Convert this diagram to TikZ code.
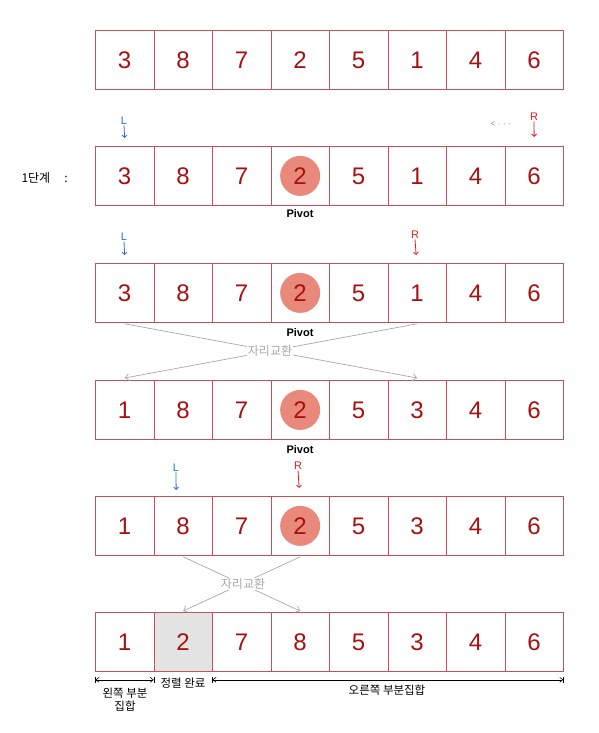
\documentclass[tikz,border=0pt]{standalone}
\usepackage{fontspec}
\setmainfont{Liberation Sans}
\newfontfamily\kr{Noto Sans CJK KR}
\usetikzlibrary{arrows.meta}
\definecolor{cellline}{HTML}{C8505A}
\definecolor{digit}{HTML}{A81010}
\definecolor{pivotc}{HTML}{E8897B}
\definecolor{lblue}{HTML}{2A70C8}
\definecolor{rred}{HTML}{D82020}
\definecolor{swapg}{HTML}{A8A8A8}
\definecolor{donegray}{HTML}{E3E3E3}
\newcommand\cellrow[3]{%
  \foreach \v/\s [count=\i] in {#3}
    \node[cell,\s] (r#1c\i) at ({95+(\i-1)*58.5},#2) {\v};}
\begin{document}
\begin{tikzpicture}[x=1pt,y=-1pt,
  cell/.style={draw=cellline, line width=0.8pt, minimum width=58.5pt, minimum height=59pt,
    inner sep=0pt, anchor=north west, font=\fontsize{24}{24}\selectfont, text=digit},
  pivotcell/.style={path picture={\fill[pivotc] (path picture bounding box.center) circle[radius=20pt];}},
  donecell/.style={fill=donegray},
  lmark/.style={text=lblue, font=\fontsize{11}{11}\selectfont, inner sep=0.5pt},
  rmark/.style={text=rred, font=\fontsize{11}{11}\selectfont, inner sep=0.5pt},
  markarr/.style={-{Straight Barb[length=2.5pt,width=5pt]}, line width=0.8pt},
  pivlabel/.style={font=\bfseries\fontsize{11}{11}\selectfont, inner sep=1pt},
  swapline/.style={draw=swapg, line width=0.7pt, -{Straight Barb[length=4pt,width=7pt]}},
  swaplabel/.style={text=swapg, fill=white, font=\kr\fontsize{12}{12}\selectfont, inner sep=1pt},
  krtext/.style={font=\kr\fontsize{11.5}{13}\selectfont, align=center, inner sep=0.5pt},
  dimline/.style={line width=0.6pt, |<->|, >={Straight Barb[length=3pt,width=5pt]}}
]
\useasboundingbox (0,0) rectangle (598,733);

% rows
\cellrow{1}{30}{3/,8/,7/,2/,5/,1/,4/,6/}
\cellrow{2}{146}{3/,8/,7/,2/pivotcell,5/,1/,4/,6/}
\cellrow{3}{263}{3/,8/,7/,2/pivotcell,5/,1/,4/,6/}
\cellrow{4}{380}{1/,8/,7/,2/pivotcell,5/,3/,4/,6/}
\cellrow{5}{496}{1/,8/,7/,2/pivotcell,5/,3/,4/,6/}
\cellrow{6}{612}{1/,2/donecell,7/,8/,5/,3/,4/,6/}

% stage label
\node[font=\kr\fontsize{12}{12}\selectfont, anchor=west] (stage) at (18,178) {1단계\hspace{14pt}:};

% pivot labels
\node[pivlabel] (piv2) at (300,214) {Pivot};
\node[pivlabel] (piv3) at (300,333) {Pivot};
\node[pivlabel] (piv4) at (300,450) {Pivot};

% markers row 2
\node[lmark] (L2) at (124,121) {L};
\draw[markarr, lblue] (L2.south) -- ([yshift=8pt]r2c1.north);
\node[rmark] (R2) at (534,117) {R};
\draw[markarr, rred] (R2.south) -- ([yshift=9pt]r2c8.north);
\node[text=rred!70, font=\fontsize{8}{8}\selectfont, inner sep=0.5pt] (dots) at (501,124) {<\,\,·\,\,·\,\,·};

% markers row 3
\node[lmark] (L3) at (124,237) {L};
\draw[markarr, lblue] (L3.south) -- ([yshift=8pt]r3c1.north);
\node[rmark] (R3) at (415,235) {R};
\draw[markarr, rred] (R3.south) -- ([xshift=-1pt,yshift=8pt]r3c6.north);

% markers row 5
\node[lmark] (L5) at (176,468) {L};
\draw[markarr, lblue] (L5.south) -- ([xshift=-7pt,yshift=6pt]r5c2.north);
\node[rmark] (R5) at (298,466) {R};
\draw[markarr, rred] (R5.south) -- ([xshift=-1pt,yshift=8pt]r5c4.north);

% swap 1
\draw[swapline] ([yshift=-1pt]r3c1.south) -- ([yshift=2pt]r4c6.north);
\draw[swapline] ([yshift=-1pt]r3c6.south) -- ([yshift=2pt]r4c1.north);
\node[swaplabel] (swap1) at (270,351) {자리교환};

% swap 2
\draw[swapline] ([yshift=-1pt]r5c2.south) -- ([yshift=1pt]r6c4.north);
\draw[swapline] ([yshift=-1pt]r5c4.south) -- ([yshift=1pt]r6c2.north);
\node[swaplabel] (swap2) at (243,584) {자리교환};

% bottom dimension lines
\draw[dimline] ([yshift=-8pt]r6c1.south west) -- ([yshift=-8pt]r6c1.south east);
\draw[dimline] ([yshift=-8pt]r6c3.south west) -- ([yshift=-8pt]r6c8.south east);
\node[krtext] (leftset) at (125,700) {왼쪽 부분\\집합};
\node[krtext] (done) at (183,683) {정렬 완료};
\node[krtext] (rightset) at (387,690) {오른쪽 부분집합};
\end{tikzpicture}
\end{document}
